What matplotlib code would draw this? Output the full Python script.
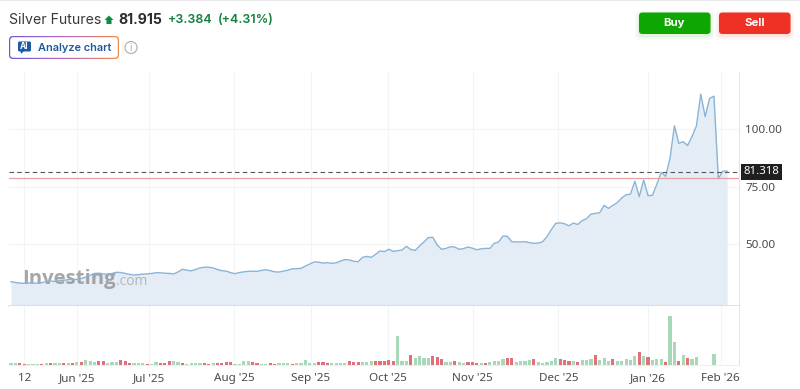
import numpy as np
import matplotlib
matplotlib.use("Agg")
import matplotlib.pyplot as plt
from matplotlib.patches import FancyBboxPatch, Rectangle, Circle, Polygon
from matplotlib.colors import LinearSegmentedColormap

# --- Data ---
close = [
    33.6, 33.3, 33.0, 32.9, 33.1, 33.0, 33.0, 33.2, 33.7, 33.9,
    33.7, 34.0, 34.2, 34.5, 34.7, 34.6, 35.0, 35.6, 36.4, 37.2,
    37.3, 37.0, 36.8, 37.2, 37.7, 37.6, 37.2, 36.8, 36.5, 36.7,
    36.9, 37.0, 37.2, 37.5, 37.5, 37.3, 37.2, 37.0, 37.8, 39.0,
    38.6, 38.3, 38.9, 39.6, 39.9, 39.9, 39.6, 38.9, 38.4, 38.2,
    37.5, 37.1, 37.6, 37.9, 38.1, 38.2, 38.1, 38.5, 38.8, 38.4,
    37.9, 37.8, 38.2, 38.6, 39.2, 39.3, 39.4, 40.4, 41.3, 42.2,
    42.1, 41.7, 41.9, 41.6, 41.8, 42.6, 43.2, 43.1, 42.5, 42.3,
    44.2, 44.6, 44.2, 45.5, 47.0, 46.7, 47.7, 46.8, 47.1, 47.4,
    49.0, 47.6, 47.2, 49.2, 50.9, 52.8, 52.9, 49.6, 47.7, 48.1,
    48.8, 48.7, 47.7, 48.0, 48.7, 48.2, 47.5, 47.9, 48.1, 48.1,
    50.3, 50.9, 53.5, 53.3, 51.0, 50.9, 50.9, 51.0, 50.6, 50.3,
    50.4, 51.0, 53.2, 56.3, 59.0, 59.2, 58.8, 57.9, 59.1, 58.5,
    60.2, 61.0, 63.0, 63.3, 63.6, 66.8, 65.5, 66.8, 68.0, 70.0,
    71.4, 71.7, 77.3, 70.6, 77.8, 71.0, 71.2, 76.0, 81.2, 79.4,
    87.3, 101.4, 93.8, 94.5, 92.8, 96.7, 101.3, 115.2, 105.4, 113.3,
    114.3, 78.4, 81.7, 81.7,
]
volume = [
    1.5, 1.5, 1.5, 1, 1, 1, 1, 1, 1.2, 1.2,
    1.5, 1.5, 1.5, 1.5, 1.5, 3, 2.5, 5, 4, 3,
    3.5, 3.5, 2, 3, 2.5, 4.5, 3.5, 2, 1.5, 2,
    1.5, 1, 1, 2.5, 1.5, 2, 3.5, 4, 2.5, 1.5,
    1, 1.5, 1.5, 1.5, 1.5, 1, 1.5, 2, 2, 2.5,
    2.5, 1, 1, 4, 4, 3, 1.5, 1, 1, 1.5,
    1, 1.5, 2, 2, 1, 1.5, 2, 5, 2, 2,
    2.5, 2.5, 1.5, 2, 2, 2, 2, 4, 3, 3,
    3, 2.5, 4, 4, 4, 4, 4.5, 4, 29, 4,
    4, 9.5, 7, 8.5, 6.5, 7, 9, 8, 5.5, 3,
    3, 4, 3, 2, 3, 3, 2, 1.5, 2, 3,
    3.5, 4, 5.5, 6.5, 6.5, 3, 4, 4, 4.5, 5.5,
    2.5, 2, 3, 4, 7, 5.5, 4.5, 4, 4, 3,
    5, 5, 6, 10, 4.5, 7, 4, 5.5, 4, 4,
    6, 4.5, 9, 13, 8.5, 7.5, 4.5, 6, 6, 3,
    49, 23, 4, 10, 7, 5.5, 7.5, 0, 0, 0,
    10.5, 0, 0, 0,
]
vol_dirs = (
    "ggrrgggrgr" "ggrgrgrggg" "rrgggrrrgg" "grggrrrggr"
    "ggggrrgrrr" "rggggrrggr" "rgggrggggg" "rrrggggrrr"
    "gggrrrrrgg" "grggggrrrg" "grggrrrgrg" "gggrrggggr"
    "gggggrrrgr" "gggrgggrgg" "gggrgrgggr" "ggrgrggggg"
    "gggg"
)

tick_pos = [3, 15, 31.3, 50.8, 68.2, 85.7, 105.1, 124.6, 145, 161.5]
tick_labels = ["12", "Jun '25", "Jul '25", "Aug '25", "Sep '25", "Oct '25",
               "Nov '25", "Dec '25", "Jan '26", "Feb '26"]
price_ticks = [50, 75, 100]
last_price = 81.318
prev_close = 78.531

UP = "#a9d8b8"
DOWN = "#e2707a"
LINE = "#8ab4d6"
FILL = "#e4edf5"
GRID = "#f3f4f5"
W, H = 800, 389

plt.rcParams["font.family"] = "Noto Sans"
fig = plt.figure(figsize=(8, 3.89), dpi=100, facecolor="white")


def px_axes(left, top, right, bottom):
    return fig.add_axes([left / W, 1 - bottom / H, (right - left) / W, (bottom - top) / H])


x = np.arange(len(close))
XLIM = (-0.455, 165.7)

# --- Price panel ---
ax = px_axes(9, 72, 739, 306)
ax.set_xlim(*XLIM)
ax.set_ylim(23.04, 124.8)
ax.fill_between(x, close, 0, color=FILL, lw=0, zorder=2)
ax.plot(x, close, color=LINE, lw=1.0, zorder=4)
ax.set_xticks(tick_pos)
ax.set_yticks(price_ticks)
ax.grid(True, color=GRID, lw=0.8, zorder=1)
ax.set_axisbelow(True)
ax.tick_params(length=0, labelbottom=False, labelleft=False, labelright=True,
               labelsize=8.4, labelcolor="#4a4a4a", pad=4.5)
ax.set_yticklabels([f"{v:.2f}" for v in price_ticks])
for s in ["top", "left"]:
    ax.spines[s].set_visible(False)
ax.spines["right"].set_color("#e6e6e6")
ax.spines["bottom"].set_color("#d6dce2")
ax.spines["bottom"].set_linewidth(1.2)
ax.axhline(prev_close, color="#e8a0a4", lw=0.9, zorder=5)
ax.axhline(last_price, color="#555555", lw=0.8, dashes=(4, 3), zorder=5)
ax.annotate(f"{last_price:.3f}", xy=(1, last_price), xycoords=("axes fraction", "data"),
            xytext=(3.2, 0), textcoords="offset points", va="center", ha="left",
            color="white", fontsize=8.2, zorder=6, annotation_clip=False,
            bbox=dict(boxstyle="square,pad=0.24", fc="#1f1f1f", ec="none"))
ax.text(0.0175, 0.115, "Investing", transform=ax.transAxes, fontsize=14.6, fontweight="bold",
        color="#8a8a8a", alpha=0.75, family="Open Sans", va="center", zorder=3)
ax.text(0.1465, 0.105, ".com", transform=ax.transAxes, fontsize=10,
        color="#a8a8a8", alpha=0.8, family="Open Sans", va="center", zorder=3)

# --- Volume panel ---
vax = px_axes(9, 306, 739, 364.5)
vax.set_xlim(*XLIM)
vax.set_ylim(0, 58.5)
vax.bar(x, volume, width=0.72, color=[UP if d == "g" else DOWN for d in vol_dirs], zorder=3)
vax.set_xticks(tick_pos)
vax.set_xticklabels(tick_labels)
vax.set_yticks([])
vax.grid(True, axis="x", color=GRID, lw=0.8, zorder=1)
vax.set_axisbelow(True)
vax.tick_params(length=0, labelsize=8.4, labelcolor="#4a4a4a", pad=6)
for s in ["top", "left"]:
    vax.spines[s].set_visible(False)
vax.spines["right"].set_color("#e6e6e6")
vax.spines["bottom"].set_color("#eeeeee")

# --- Header widgets, in pixel coordinates ---
ui = fig.add_axes([0, 0, 1, 1], facecolor="none")
ui.axis("off")
ui.add_patch(Rectangle((0, 0), W, 1.2, fc="#e9e9e9", ec="none"))

ui.text(9, 19.5, "Silver Futures", fontsize=10.2, color="#3a3a3a", va="center", family="Inter")
ui.add_patch(Polygon([(109, 15.5), (113.5, 20), (111.5, 20), (111.5, 24), (106.5, 24), (106.5, 20), (104.5, 20)],
                     fc="#0f8a43", ec="none"))
ui.text(118, 19.5, "81.915", fontsize=10.1, fontweight="bold", color="#2b2b2b", va="center", family="Inter")
ui.text(168, 19.5, "+3.384", fontsize=9, fontweight="semibold", color="#15803d", va="center", family="Inter")
ui.text(218, 19.5, "(+4.31%)", fontsize=9, fontweight="semibold", color="#15803d", va="center", family="Inter")

# Analyze chart button with gradient border
grad = LinearSegmentedColormap.from_list("btn", ["#6a5ad6", "#b56ac8", "#f08a4a"])
img = ui.imshow(np.linspace(0, 1, 200).reshape(1, -1), extent=(9, 119, 59, 36), cmap=grad,
                aspect="auto", zorder=2)
img.set_clip_path(FancyBboxPatch((9, 36), 110, 23, boxstyle="round,pad=0,rounding_size=4",
                                 transform=ui.transData))
ui.add_patch(FancyBboxPatch((10.2, 37.2), 107.6, 20.6, boxstyle="round,pad=0,rounding_size=3",
                            fc="white", ec="none", zorder=3))
ui.set_xlim(0, W)
ui.set_ylim(H, 0)
ui.add_patch(FancyBboxPatch((18, 41.5), 13, 10, boxstyle="round,pad=0,rounding_size=1.5",
                            fc="#1d5aa8", ec="none", zorder=4))
ui.add_patch(Polygon([(20.5, 51), (24, 51), (21, 54)], fc="#1d5aa8", ec="none", zorder=4))
ui.text(24.5, 46.5, "AI", fontsize=6, fontweight="bold", color="white", ha="center", va="center", zorder=5, family="Inter")
ui.text(38.5, 47.5, "Analyze chart", fontsize=7.9, fontweight="semibold", color="#1f5aa0", va="center", zorder=5, family="Inter")
ui.add_patch(Circle((131, 47.5), 6, fc="white", ec="#b5b5b5", lw=0.9))
ui.text(131, 47.8, "i", fontsize=7, color="#a5a5a5", ha="center", va="center", family="Inter")

# Buy / Sell buttons
for left, label, col in [(639, "Buy", "#0ea600"), (719, "Sell", "#ee3124")]:
    for grow, alpha in [(4, 0.03), (2.5, 0.04), (1, 0.06)]:
        ui.add_patch(FancyBboxPatch((left - grow, 12.5 - grow + 2), 71.5 + 2 * grow, 21.5 + 2 * grow,
                                    boxstyle="round,pad=0,rounding_size=5", fc=col, ec="none", alpha=alpha))
    ui.add_patch(FancyBboxPatch((left, 12.5), 71.5, 21.5, boxstyle="round,pad=0,rounding_size=3.5",
                                fc=col, ec="none"))
    ui.text(left + 35.5, 23, label, fontsize=8.2, fontweight="bold", color="white",
            ha="center", va="center", family="Inter")

fig.savefig("out.png", dpi=100)
